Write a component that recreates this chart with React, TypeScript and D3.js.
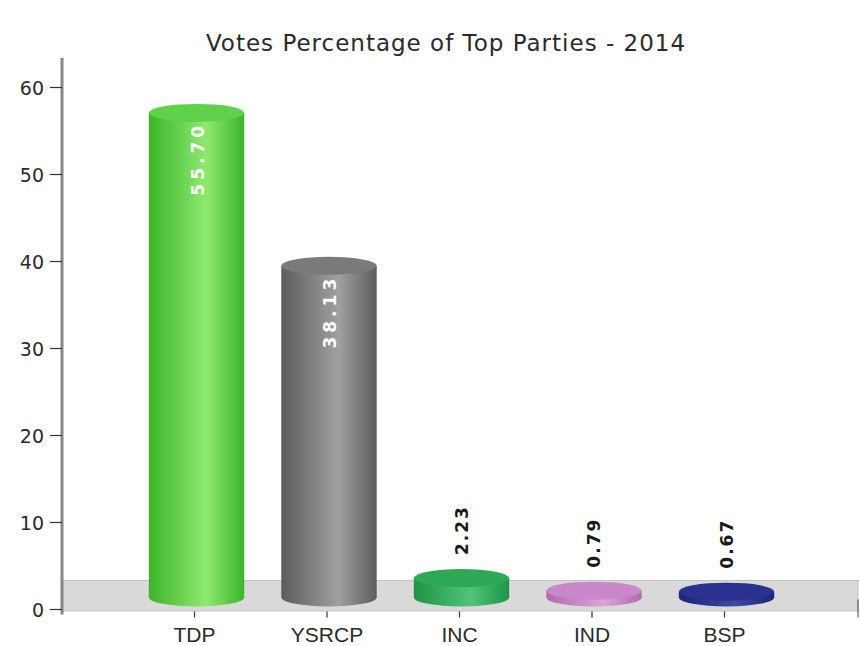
import React from "react";
import * as d3 from "d3";

const categories = ["TDP", "YSRCP", "INC", "IND", "BSP"];
const values = [55.7, 38.13, 2.23, 0.79, 0.67];
const yTicks = [0, 10, 20, 30, 40, 50, 60];
const title = "Votes Percentage of Top Parties - 2014";
const darkColors = ["#3cb42a", "#5c5c5c", "#1d9443", "#b06ab0", "#1c2379"];
const lightColors = ["#8eea6e", "#a0a0a0", "#52c478", "#dba4db", "#3d4aa6"];
const topColors = ["#5fd14a", "#7a7a7a", "#2fa855", "#c989c9", "#2a3290"];

const W = 860;
const H = 646;
const axisX = 62;
const rightX = 857;
const depth = 12;

export default function App() {
  const y = d3.scaleLinear().domain([0, 60]).range([609.5, 87.5]);
  const x = d3.scalePoint<string>().domain(categories).range([axisX, rightX]).padding(1);
  const bw = x.step() * 0.72;
  const rx = bw / 2;
  const ry = 9;
  const font = "'DejaVu Sans', Verdana, sans-serif";

  return (
    <svg width={W} height={H} style={{ position: "absolute", left: 0, top: 0, background: "#fff" }}>
      <defs>
        {categories.map((c, i) => (
          <linearGradient key={c} id={`g${i}`} x1="0" x2="1" y1="0" y2="0">
            <stop offset="0" stopColor={darkColors[i]} />
            <stop offset="0.6" stopColor={lightColors[i]} />
            <stop offset="1" stopColor={darkColors[i]} />
          </linearGradient>
        ))}
      </defs>
      <text x={446} y={51} textAnchor="middle" fontFamily={font} fontSize={23} letterSpacing={1} fill="#2a2a2a">
        {title}
      </text>
      {/* floor */}
      <rect x={axisX} y={y(0) - 29} width={rightX - axisX + 1} height={30.5} fill="#d9d9d9" stroke="#c2c2c2" strokeWidth={1} />
      <line x1={rightX + 1} x2={rightX + 1} y1={y(0) - 10} y2={y(0) + 8} stroke="#444" strokeWidth={1} />
      {/* y axis */}
      <line x1={axisX} x2={axisX} y1={58} y2={y(0) + 5} stroke="#888" strokeWidth={3} />
      {yTicks.map((t) => (
        <g key={t}>
          <line x1={50} x2={axisX} y1={y(t)} y2={y(t)} stroke="#333" strokeWidth={1.2} />
          <text x={44} y={y(t) + 7} textAnchor="end" fontFamily={font} fontSize={19} fill="#2a2a2a">
            {t}
          </text>
        </g>
      ))}
      {/* x ticks & labels */}
      {categories.map((c) => (
        <g key={c}>
          <line x1={x(c)!} x2={x(c)!} y1={y(0) + 2} y2={y(0) + 8} stroke="#333" strokeWidth={1.2} />
          <text x={x(c)!} y={y(0) + 32} textAnchor="middle" fontFamily="'Liberation Sans', Arial, sans-serif" fontSize={21} fill="#2a2a2a">
            {c}
          </text>
        </g>
      ))}
      {/* cylinders */}
      {categories.map((c, i) => {
        const cx = x(c)! + 2;
        const topY = y(values[i]) - depth;
        const baseY = y(0) - depth;
        const body = `M${cx - rx},${topY} L${cx - rx},${baseY} A${rx},${ry} 0 0 0 ${cx + rx},${baseY} L${cx + rx},${topY} Z`;
        const inside = values[i] >= 10;
        const label = values[i].toFixed(2);
        return (
          <g key={c}>
            <path d={body} fill={`url(#g${i})`} />
            <ellipse cx={cx} cy={topY} rx={rx} ry={ry} fill={topColors[i]} />
            {inside ? (
              <text
                transform={`translate(${cx + 7},${topY + 9}) rotate(-90)`}
                textAnchor="end"
                fontFamily={font}
                fontWeight="bold"
                fontSize={17}
                letterSpacing={4}
                fill="#fff"
              >
                {label}
              </text>
            ) : (
              <text
                transform={`translate(${cx + 6},${topY - 23}) rotate(-90)`}
                textAnchor="start"
                fontFamily={font}
                fontWeight="bold"
                fontSize={17}
                letterSpacing={2}
                fill="#1a1a1a"
              >
                {label}
              </text>
            )}
          </g>
        );
      })}
    </svg>
  );
}
